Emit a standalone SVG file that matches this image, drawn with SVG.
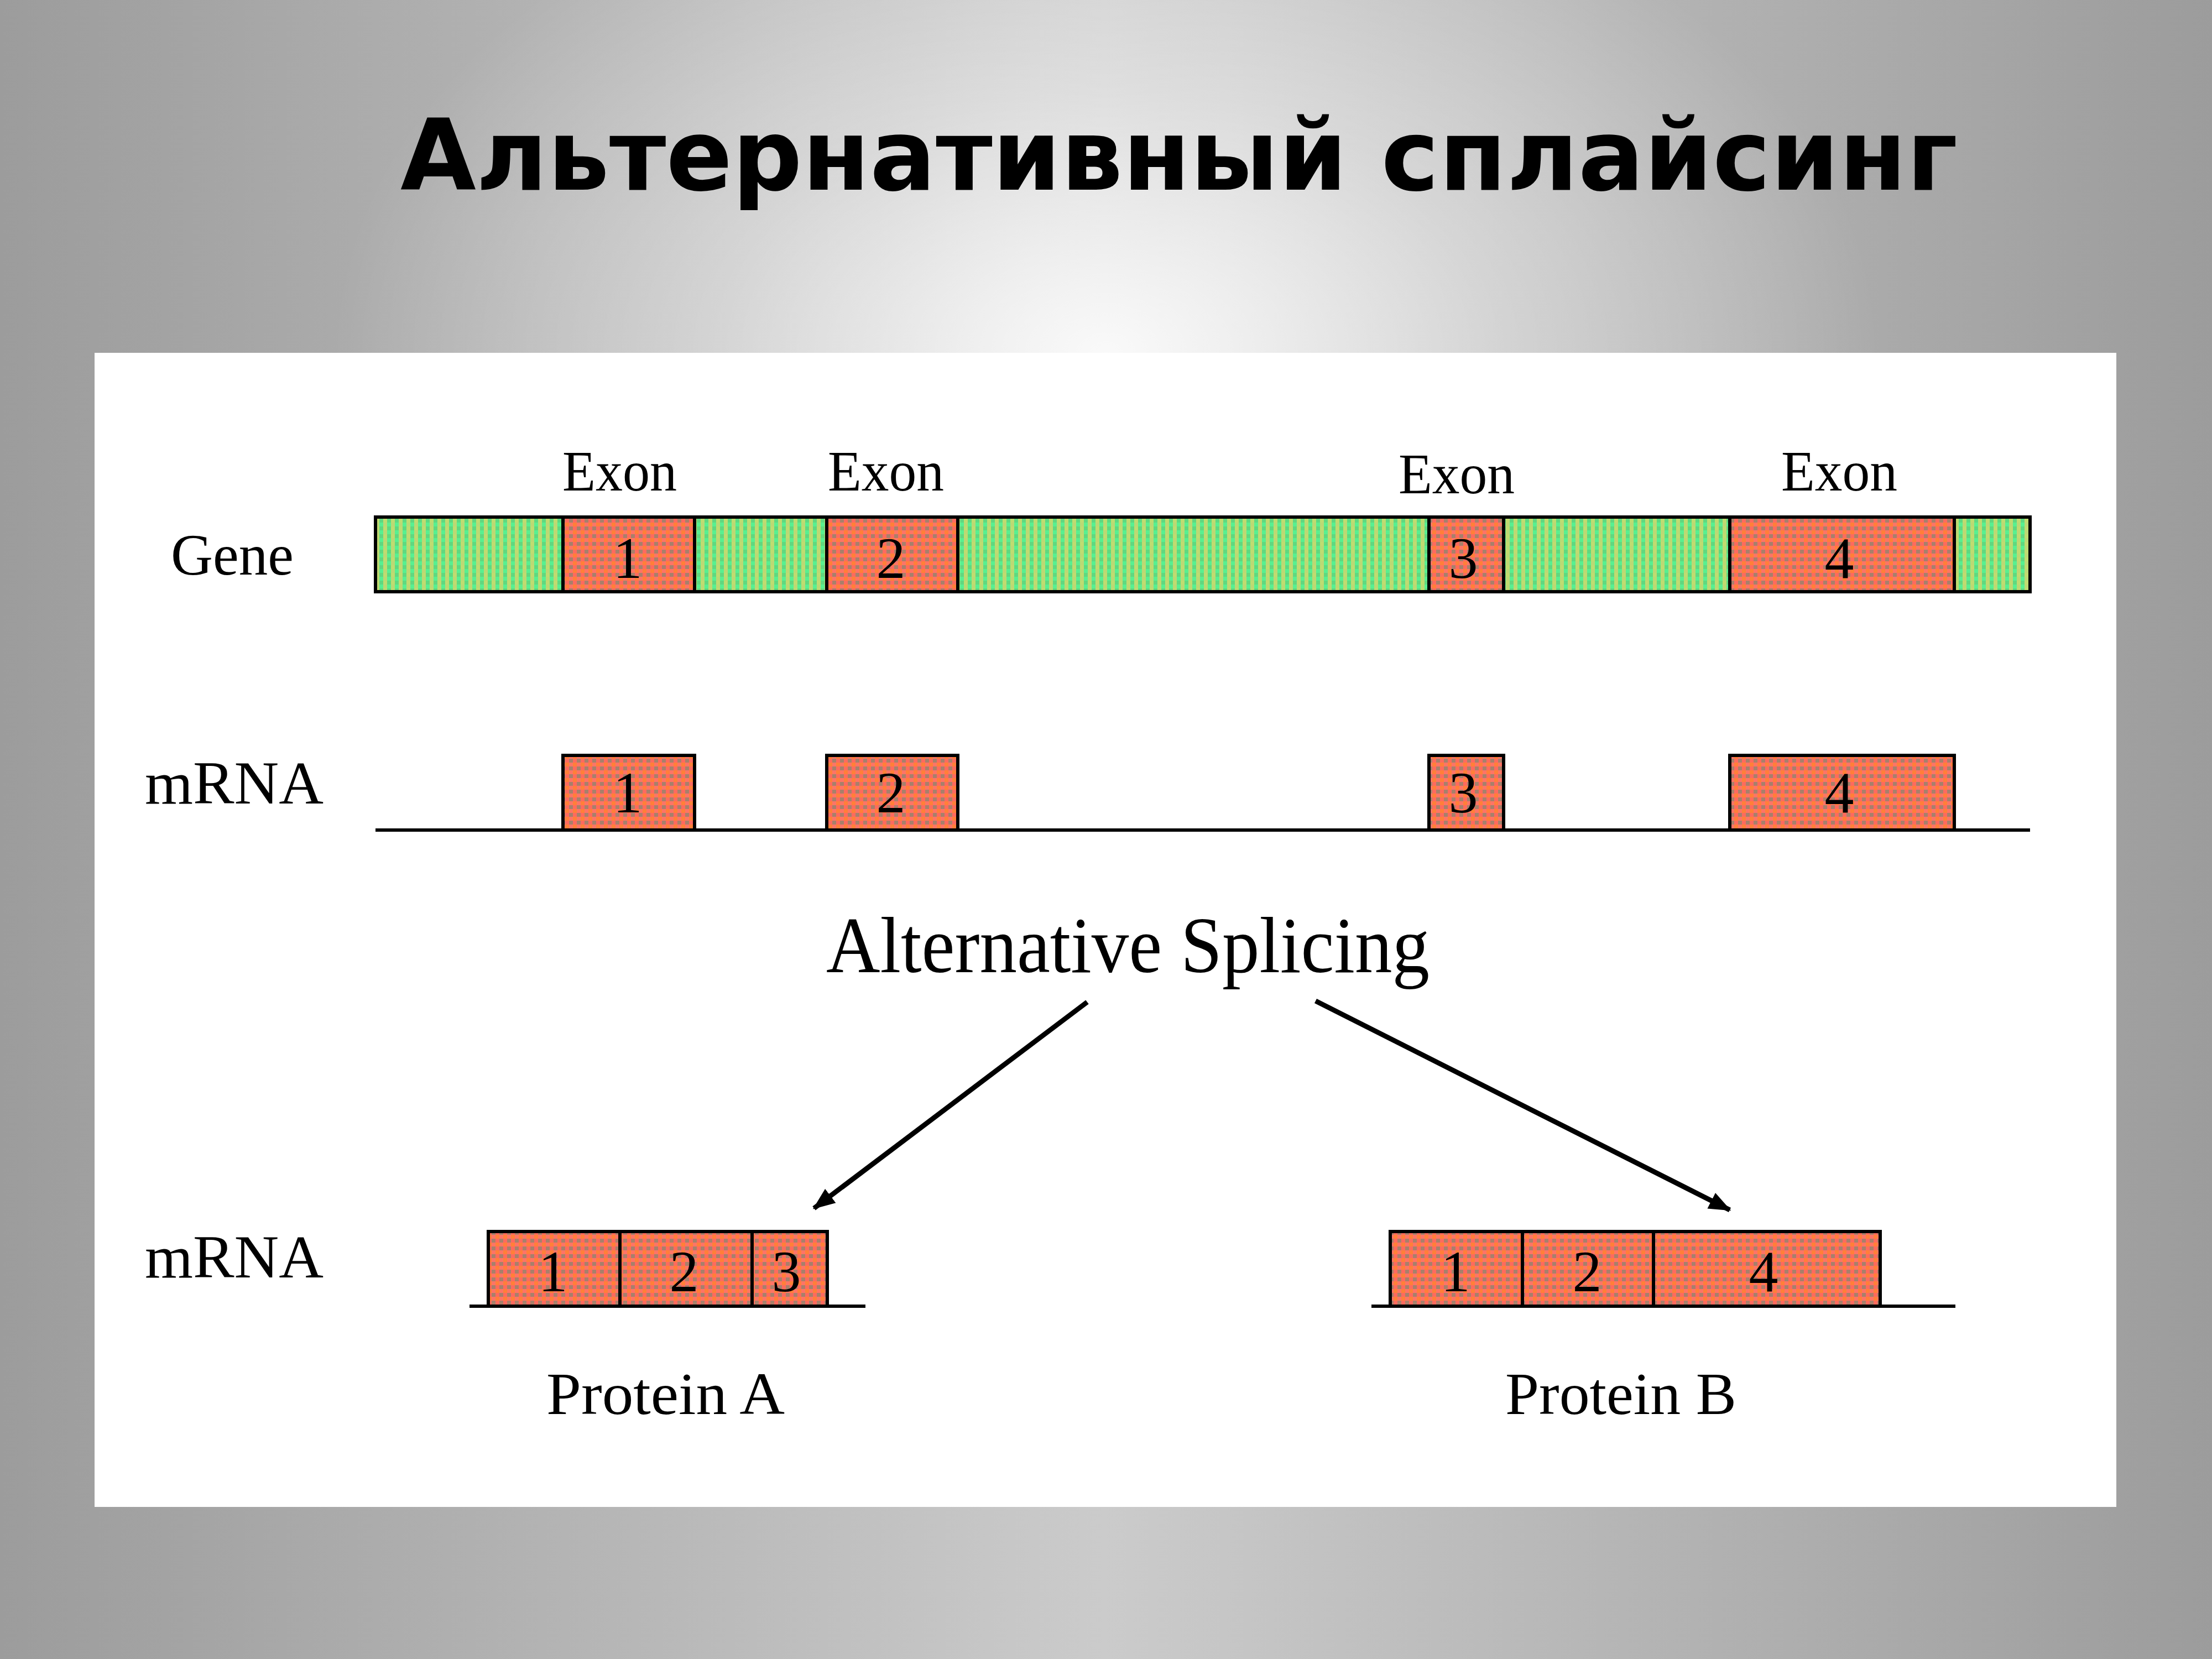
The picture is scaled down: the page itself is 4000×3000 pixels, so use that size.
<svg xmlns="http://www.w3.org/2000/svg" width="4000" height="3000" viewBox="0 0 4000 3000">
  <defs>
    <linearGradient id="bgH" x1="0" y1="0" x2="4000" y2="0" gradientUnits="userSpaceOnUse">
      <stop offset="0" stop-color="#9c9c9c"/>
      <stop offset="0.5" stop-color="#cbcbcb"/>
      <stop offset="1" stop-color="#9c9c9c"/>
    </linearGradient>
    <radialGradient id="glow" cx="2000" cy="640" r="1400" gradientUnits="userSpaceOnUse" gradientTransform="translate(2000 640) scale(1 0.68) translate(-2000 -640)">
      <stop offset="0" stop-color="#ffffff" stop-opacity="0.9"/>
      <stop offset="0.5" stop-color="#ffffff" stop-opacity="0.38"/>
      <stop offset="1" stop-color="#ffffff" stop-opacity="0"/>
    </radialGradient>
    <pattern id="redPat" x="0" y="0" width="14" height="14" patternUnits="userSpaceOnUse">
      <rect width="14" height="14" fill="#f8705c"/>
      <rect x="0" y="0" width="7" height="7" fill="#ff6a5e"/>
      <rect x="7" y="0" width="7" height="7" fill="#a8806a"/>
      <rect x="0" y="7" width="7" height="7" fill="#ff8038"/>
      <rect x="7" y="7" width="7" height="7" fill="#ff7466"/>
    </pattern>
    <pattern id="greenPat" x="0" y="0" width="14" height="14" patternUnits="userSpaceOnUse">
      <rect width="14" height="14" fill="#8ce07c"/>
      <rect x="0" y="0" width="7" height="7" fill="#60d880"/>
      <rect x="7" y="0" width="7" height="7" fill="#c0dc70"/>
      <rect x="0" y="7" width="7" height="7" fill="#58f090"/>
      <rect x="7" y="7" width="7" height="7" fill="#bcd874"/>
    </pattern>
    <marker id="arrow" markerUnits="userSpaceOnUse" markerWidth="40" markerHeight="40" viewBox="0 0 30 24" refX="28" refY="12" orient="auto">
      <path d="M0,0 L30,12 L0,24 Z" fill="#000"/>
    </marker>
  </defs>
  <style>
    .lbl { font-family: "Liberation Serif", "Times New Roman", serif; fill: #000; }
    .num { font-family: "Liberation Serif", "Times New Roman", serif; font-size: 106px; fill: #000; text-anchor: middle; }
    .exon { fill: url(#redPat); stroke: #000; stroke-width: 6; }
    .intron { fill: url(#greenPat); stroke: #000; stroke-width: 6; }
    .base { stroke: #000; stroke-width: 6; fill: none; }
    .conn { stroke: #000; stroke-width: 9; fill: none; marker-end: url(#arrow); }
  </style>

  <!-- background -->
  <rect x="0" y="0" width="4000" height="3000" fill="url(#bgH)"/>
  <rect x="0" y="0" width="4000" height="3000" fill="url(#glow)"/>

  <text x="2132" y="343" font-family="DejaVu Sans, Verdana, sans-serif" font-weight="bold" font-size="178" text-anchor="middle" textLength="2816" lengthAdjust="spacingAndGlyphs" fill="#000">Альтернативный сплайсинг</text>

  <rect x="171" y="638" width="3656" height="2087" fill="#ffffff"/>

  <!-- Gene row -->
  <g id="gene">
    <text class="lbl" x="309" y="1039" font-size="106" textLength="222" lengthAdjust="spacingAndGlyphs">Gene</text>
    <rect class="intron" x="679" y="935" width="2992" height="135"/>
    <rect class="exon" x="1018" y="935" width="238" height="135"/>
    <rect class="exon" x="1495" y="935" width="237" height="135"/>
    <rect class="exon" x="2584" y="935" width="135" height="135"/>
    <rect class="exon" x="3128" y="935" width="406" height="135"/>
    <text class="num" x="1135" y="1045">1</text>
    <text class="num" x="1611" y="1045">2</text>
    <text class="num" x="2646" y="1045">3</text>
    <text class="num" x="3326" y="1045">4</text>
  </g>

  <g id="exon-labels">
    <text class="lbl" x="1017" y="887" font-size="104" textLength="207" lengthAdjust="spacingAndGlyphs">Exon</text>
    <text class="lbl" x="1497" y="887" font-size="104" textLength="210" lengthAdjust="spacingAndGlyphs">Exon</text>
    <text class="lbl" x="2529" y="892" font-size="104" textLength="210" lengthAdjust="spacingAndGlyphs">Exon</text>
    <text class="lbl" x="3221" y="887" font-size="104" textLength="210" lengthAdjust="spacingAndGlyphs">Exon</text>
  </g>

  <!-- mRNA row 1 -->
  <g id="mrna1">
    <text class="lbl" x="262" y="1453" font-size="110" textLength="323" lengthAdjust="spacingAndGlyphs">mRNA</text>
    <rect class="exon" x="1018" y="1366" width="238" height="135"/>
    <rect class="exon" x="1495" y="1366" width="237" height="135"/>
    <rect class="exon" x="2584" y="1366" width="135" height="135"/>
    <rect class="exon" x="3128" y="1366" width="406" height="135"/>
    <line class="base" x1="679" y1="1501" x2="3671" y2="1501"/>
    <text class="num" x="1135" y="1469">1</text>
    <text class="num" x="1611" y="1469">2</text>
    <text class="num" x="2646" y="1469">3</text>
    <text class="num" x="3326" y="1469">4</text>
  </g>

  <g id="alt-splicing">
    <text class="lbl" x="1494" y="1758" font-size="143" textLength="1091" lengthAdjust="spacingAndGlyphs">Alternative Splicing</text>
  </g>

  <!-- connectors -->
  <g id="connectors">
    <line class="conn" x1="1966" y1="1812" x2="1472" y2="2185"/>
    <line class="conn" x1="2379" y1="1810" x2="3128" y2="2188"/>
  </g>

  <!-- mRNA row 2 label -->
  <g id="mrna2-label">
    <text class="lbl" x="262" y="2310" font-size="110" textLength="323" lengthAdjust="spacingAndGlyphs">mRNA</text>
  </g>

  <!-- Protein A -->
  <g id="proteinA">
    <rect class="exon" x="883" y="2227" width="238" height="135"/>
    <rect class="exon" x="1121" y="2227" width="239" height="135"/>
    <rect class="exon" x="1360" y="2227" width="136" height="135"/>
    <line class="base" x1="849" y1="2362" x2="1565" y2="2362"/>
    <text class="num" x="1000" y="2335">1</text>
    <text class="num" x="1237" y="2335">2</text>
    <text class="num" x="1422" y="2335">3</text>
    <text class="lbl" x="988" y="2557" font-size="109" textLength="431" lengthAdjust="spacingAndGlyphs">Protein A</text>
  </g>

  <!-- Protein B -->
  <g id="proteinB">
    <rect class="exon" x="2514" y="2227" width="239" height="135"/>
    <rect class="exon" x="2753" y="2227" width="237" height="135"/>
    <rect class="exon" x="2990" y="2227" width="410" height="135"/>
    <line class="base" x1="2480" y1="2362" x2="3536" y2="2362"/>
    <text class="num" x="2632" y="2335">1</text>
    <text class="num" x="2870" y="2335">2</text>
    <text class="num" x="3189" y="2335">4</text>
    <text class="lbl" x="2722" y="2557" font-size="109" textLength="418" lengthAdjust="spacingAndGlyphs">Protein B</text>
  </g>
</svg>
